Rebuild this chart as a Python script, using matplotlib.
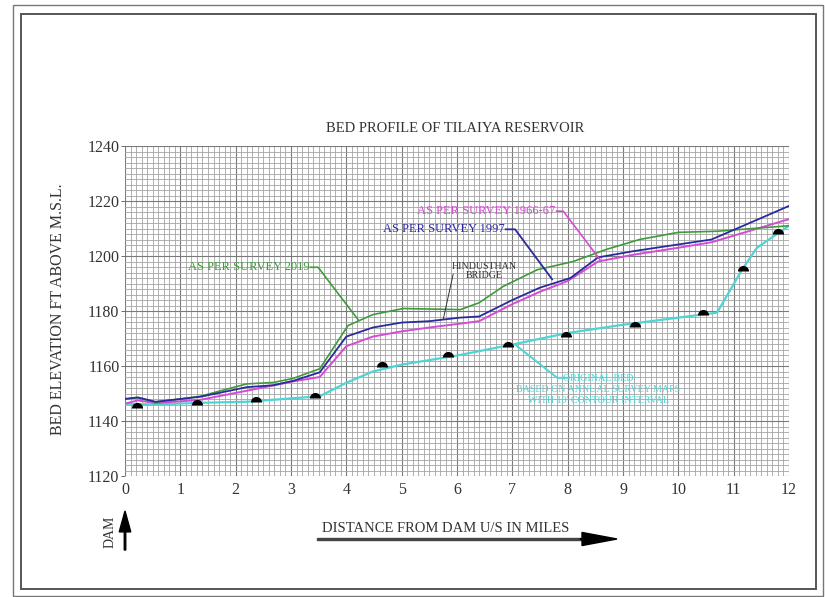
import matplotlib
matplotlib.use("Agg")
import matplotlib.pyplot as plt
from matplotlib.patches import Rectangle, FancyArrow
from matplotlib.ticker import MultipleLocator
import numpy as np

plt.rcParams['font.family'] = ['Liberation Serif', 'DejaVu Serif']

# ---- data ----
x_2019 = [0, 0.23, 0.55, 1.36, 2.2, 2.68, 3.04, 3.52, 4.03, 4.48, 5.03, 6.06, 6.4, 6.84, 7.45, 8.1, 8.7, 9.3, 10.0, 10.7, 12.0]
y_2019 = [1148.1, 1148.4, 1146.8, 1149.0, 1153.5, 1154.0, 1155.5, 1159.0, 1174.7, 1178.7, 1180.9, 1180.5, 1183.0, 1189.0, 1195.0, 1198.0, 1202.4, 1206.0, 1208.6, 1209.0, 1211.0]

x_1997 = [0, 0.23, 0.55, 1.36, 2.2, 2.68, 3.04, 3.52, 4.0, 4.48, 5.0, 5.5, 6.06, 6.4, 7.0, 7.5, 8.05, 8.55, 9.2, 10.0, 10.6, 12.0]
y_1997 = [1148.0, 1148.6, 1147.0, 1148.8, 1152.3, 1153.0, 1154.6, 1157.7, 1170.7, 1174.0, 1175.8, 1176.3, 1177.6, 1178.0, 1184.0, 1188.5, 1192.0, 1199.5, 1201.8, 1204.2, 1206.0, 1218.2]

x_1966 = [0, 0.23, 0.55, 1.36, 2.2, 3.04, 3.52, 4.0, 4.48, 5.0, 5.5, 6.06, 6.4, 7.0, 7.5, 8.0, 8.55, 9.2, 10.0, 10.6, 12.0]
y_1966 = [1146.3, 1147.5, 1146.5, 1147.7, 1151.0, 1154.4, 1156.0, 1167.2, 1170.7, 1172.6, 1174.0, 1175.4, 1176.3, 1182.5, 1187.0, 1190.9, 1198.0, 1200.5, 1203.0, 1205.0, 1213.4]

x_orig = [0, 0.5, 1.36, 2.2, 3.52, 4.0, 4.48, 5.0, 6.0, 7.0, 8.0, 9.0, 10.7, 11.15, 11.42, 12.0]
y_orig = [1146.3, 1146.0, 1146.6, 1147.0, 1149.0, 1153.9, 1158.0, 1160.5, 1163.8, 1167.8, 1172.0, 1175.0, 1179.4, 1195.0, 1203.0, 1211.0]

x_marks = [0.22, 1.3, 2.37, 3.43, 4.65, 5.84, 6.93, 7.97, 9.22, 10.45, 11.17, 11.8]
y_marks = [1144.9, 1145.9, 1147.0, 1148.4, 1159.7, 1163.3, 1167.0, 1170.7, 1174.3, 1178.7, 1194.4, 1208.0]

x_ticks = list(range(0, 13))
y_ticks = [1120, 1140, 1160, 1180, 1200, 1220, 1240]

title = "BED PROFILE OF TILAIYA RESERVOIR"
ylabel = "BED ELEVATION FT ABOVE M.S.L."
xlabel = "DISTANCE FROM DAM U/S IN MILES"

C_GREEN = "#3f9a3a"
C_BLUE = "#2b2a9c"
C_MAG = "#d44bd4"
C_CYAN = "#4fd4d6"

W, H = 825, 597
fig = plt.figure(figsize=(W / 100, H / 100), dpi=100)

def fx(px):
    return px / W

def fy(py):
    return 1 - py / H

# frames
fig.patches.append(Rectangle((fx(13), fy(596)), fx(823) - fx(13), fy(5) - fy(596),
                             transform=fig.transFigure, fill=False, ec="#777777", lw=1.0))
fig.patches.append(Rectangle((fx(21), fy(589)), fx(816) - fx(21), fy(14) - fy(589),
                             transform=fig.transFigure, fill=False, ec="#555555", lw=1.4))

ax = fig.add_axes([fx(125), fy(476), fx(789) - fx(125), fy(146) - fy(476)])
ax.set_xlim(0, 12)
ax.set_ylim(1120, 1240)
ax.xaxis.set_minor_locator(MultipleLocator(0.1))
ax.yaxis.set_minor_locator(MultipleLocator(2))
ax.set_xticks(x_ticks)
ax.set_yticks(y_ticks)
ax.grid(which="minor", color="#a4a4a4", lw=0.6)
ax.grid(which="major", color="#7a7a7a", lw=0.8)
ax.set_axisbelow(True)
for s in ax.spines.values():
    s.set_visible(False)
ax.tick_params(which="minor", length=0)
ax.tick_params(axis="y", which="major", length=3, width=0.6, color="#555555", labelsize=11.5, pad=1, labelcolor="#333333")
ax.tick_params(axis="x", which="major", length=0, labelsize=11.5, pad=4, labelcolor="#333333")

ax.plot(x_orig, y_orig, color=C_CYAN, lw=1.6, zorder=3)
ax.plot(x_1966, y_1966, color=C_MAG, lw=1.4, zorder=4)
ax.plot(x_2019, y_2019, color=C_GREEN, lw=1.2, zorder=4)
ax.plot(x_1997, y_1997, color=C_BLUE, lw=1.3, zorder=5)
ax.plot(x_marks, y_marks, ls="none", marker="o", fillstyle="top", markersize=8,
        markerfacecolor="black", markerfacecoloralt="none", markeredgewidth=0, zorder=6)

# annotations with leader lines
ax.plot([3.35, 3.49, 4.21], [1195.9, 1195.9, 1176.9], color=C_GREEN, lw=1.2, zorder=5)
ax.text(3.33, 1195.9, "AS PER SURVEY 2019", color=C_GREEN, fontsize=9, ha="right", va="center", zorder=7)

ax.plot([7.8, 7.92, 8.58], [1216.3, 1216.3, 1198.8], color=C_MAG, lw=1.2, zorder=5)
ax.text(7.78, 1216.3, "AS PER SURVEY 1966-67", color=C_MAG, fontsize=9, ha="right", va="center", zorder=7)

ax.plot([6.88, 7.05, 7.72], [1209.7, 1209.7, 1191.5], color=C_BLUE, lw=1.3, zorder=5)
ax.text(6.86, 1209.7, "AS PER SURVEY 1997", color=C_BLUE, fontsize=9, ha="right", va="center", zorder=7)

ax.plot([5.93, 5.75], [1193.3, 1176.9], color="#333333", lw=0.7, zorder=6)
ax.text(6.5, 1194.4, "HINDUSTHAN\nBRIDGE", color="#333333", fontsize=7.2, ha="center", va="center",
        linespacing=1.0, zorder=7)

ax.plot([7.05, 7.81, 8.0], [1167.8, 1155.7, 1155.7], color=C_CYAN, lw=1.4, zorder=5)
ax.text(8.55, 1151.4, "ORIGINAL BED\nBASED ON ANNUAL SURVEY MAPS\nWITH 10' CONTOUR INTERVAL",
        color=C_CYAN, fontsize=7.2, ha="center", va="center", linespacing=1.3, zorder=7)

# titles and labels
fig.text(fx(455), fy(128), title, fontsize=10.5, ha="center", va="center", color="#333333")
fig.text(fx(58), fy(309), ylabel, fontsize=11.5, ha="center", va="center", rotation=90, color="#333333")
fig.text(fx(446), fy(528), xlabel, fontsize=10.5, ha="center", va="center", color="#333333")

# arrows
fig.add_artist(FancyArrow(fx(317), fy(539), fx(583) - fx(317), 0, width=0.004,
                          head_width=0, head_length=0, transform=fig.transFigure,
                          color="#444444", length_includes_head=True))
fig.add_artist(FancyArrow(fx(580), fy(539), fx(617) - fx(580), 0, width=0.0001,
                          head_width=0.022, head_length=fx(617) - fx(582), transform=fig.transFigure,
                          color="black", length_includes_head=True))
fig.add_artist(FancyArrow(fx(125), fy(550), 0, fy(511) - fy(550), width=0.0018,
                          head_width=0.014, head_length=0.035, transform=fig.transFigure,
                          color="black", length_includes_head=True))
fig.text(fx(110), fy(532), "DAM", fontsize=10, ha="center", va="center", rotation=90, color="#333333")

fig.savefig("out.png", dpi=100, facecolor="white")
